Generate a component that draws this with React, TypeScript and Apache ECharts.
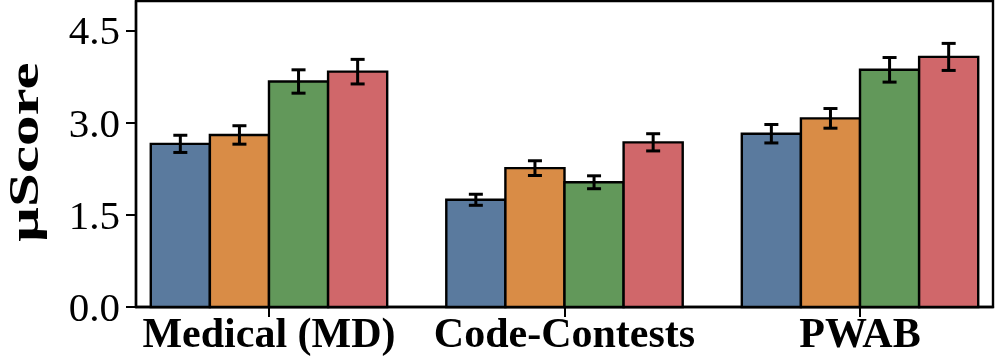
import React, { useEffect, useRef } from "react";
import * as echarts from "echarts";

const categories = ["Medical (MD)", "Code-Contests", "PWAB"];
const seriesNames = ["Method 1", "Method 2", "Method 3", "Method 4"];
const colors = ["#5A7A9E", "#D98C46", "#62985A", "#D0676A"];

const mean1 = [2.655, 1.745, 2.82];
const mean2 = [2.8, 2.26, 3.07];
const mean3 = [3.67, 2.03, 3.86];
const mean4 = [3.83, 2.68, 4.07];
const err1 = [0.14, 0.09, 0.15];
const err2 = [0.15, 0.12, 0.16];
const err3 = [0.19, 0.105, 0.2];
const err4 = [0.2, 0.14, 0.22];

const yTicks = [0, 1.5, 3.0, 4.5];
const xTicks = [0, 1, 2];

const means = [mean1, mean2, mean3, mean4];
const errs = [err1, err2, err3, err4];

const BAR_W = 0.2;
const SERIF = "'Liberation Serif', 'Times New Roman', Times, serif";

export default function App() {
  const ref = useRef<HTMLDivElement>(null);
  useEffect(() => {
    if (!ref.current) return;
    const chart = echarts.init(ref.current, null, { renderer: "svg" });
    const series = seriesNames.map((name, i) => {
      const off = (i - 1.5) * BAR_W;
      return {
        type: "custom",
        name,
        clip: false,
        data: categories.map((_, c) => [c, means[i][c], errs[i][c]]),
        renderItem: (params: any, api: any) => {
          const x = api.value(0);
          const v = api.value(1);
          const e = api.value(2);
          const p0 = api.coord([x + off - BAR_W / 2, v]);
          const p1 = api.coord([x + off + BAR_W / 2, 0]);
          const top = api.coord([x + off, v + e]);
          const bot = api.coord([x + off, v - e]);
          const cap = 7;
          return {
            type: "group",
            children: [
              {
                type: "rect",
                shape: { x: p0[0], y: p0[1], width: p1[0] - p0[0], height: p1[1] - p0[1] },
                style: { fill: colors[i], stroke: "#000", lineWidth: 2.4 },
              },
              {
                type: "line",
                shape: { x1: top[0], y1: top[1], x2: bot[0], y2: bot[1] },
                style: { stroke: "#000", lineWidth: 3 },
              },
              {
                type: "line",
                shape: { x1: top[0] - cap, y1: top[1], x2: top[0] + cap, y2: top[1] },
                style: { stroke: "#000", lineWidth: 3 },
              },
              {
                type: "line",
                shape: { x1: bot[0] - cap, y1: bot[1], x2: bot[0] + cap, y2: bot[1] },
                style: { stroke: "#000", lineWidth: 3 },
              },
            ],
          };
        },
      };
    });
    chart.setOption({
      animation: false,
      grid: {
        left: 136,
        right: 2,
        top: 1,
        bottom: 53,
        show: true,
        borderColor: "#000",
        borderWidth: 2.4,
        backgroundColor: "transparent",
      },
      xAxis: {
        type: "value",
        min: -0.45,
        max: 2.45,
        axisLine: { show: true, onZero: false, lineStyle: { color: "#000", width: 2.4 } },
        axisTick: {
          show: true,
          customValues: xTicks,
          length: 10,
          lineStyle: { color: "#000", width: 2 },
        },
        axisLabel: {
          customValues: xTicks,
          formatter: (v: number) => categories[Math.round(v)] ?? "",
          fontFamily: SERIF,
          fontWeight: "bold",
          fontSize: 42,
          color: "#000",
          margin: 5,
        },
        splitLine: { show: false },
      },
      yAxis: {
        type: "value",
        min: 0,
        max: 4.98,
        axisLine: { show: true, onZero: false, lineStyle: { color: "#000", width: 2.4 } },
        axisTick: {
          show: true,
          customValues: yTicks,
          length: 10,
          lineStyle: { color: "#000", width: 2 },
        },
        axisLabel: {
          customValues: yTicks,
          formatter: (v: number) => v.toFixed(1),
          fontFamily: SERIF,
          fontSize: 41,
          color: "#000",
          margin: 16,
        },
        splitLine: { show: false },
      },
      graphic: [
        {
          type: "text",
          x: 23,
          y: 152,
          rotation: Math.PI / 2,
          scaleX: 1.42,
          scaleY: 1,
          style: {
            text: "μScore",
            fontFamily: SERIF,
            fontWeight: "bold",
            fontSize: 43,
            lineHeight: 36,
            fill: "#000",
            align: "center",
            verticalAlign: "middle",
          },
        },
      ],
      series,
    });
    return () => chart.dispose();
  }, []);
  return (
    <div
      ref={ref}
      style={{ position: "fixed", left: 0, top: 0, width: 995, height: 360 }}
    />
  );
}
